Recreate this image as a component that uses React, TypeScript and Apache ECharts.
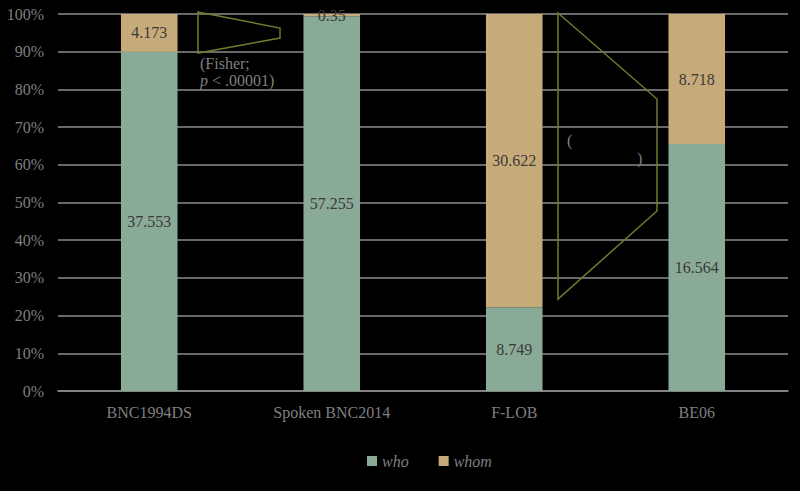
import React, { useEffect, useRef } from "react";
import * as echarts from "echarts";

const categories = ["BNC1994DS", "Spoken BNC2014", "F-LOB", "BE06"];
const whoValues = [37.553, 57.255, 8.749, 16.564];
const whomValues = [4.173, 0.35, 30.622, 8.718];
const yTicks = [0, 10, 20, 30, 40, 50, 60, 70, 80, 90, 100];

const WHO_COLOR = "#89aa97";
const WHOM_COLOR = "#c7aa7a";
const TEXT_GRAY = "#7f7f7f";
const LINE_GREEN = "#6a7f2c";
const FS = 16;

export default function App() {
  const ref = useRef<HTMLDivElement>(null);
  useEffect(() => {
    if (!ref.current) return;
    const chart = echarts.init(ref.current, null, { renderer: "svg" });
    const totals = whoValues.map((v, i) => v + whomValues[i]);
    const whoShare = whoValues.map((v, i) => ({ value: (v / totals[i]) * 100, raw: v }));
    const whomShare = whomValues.map((v, i) => ({ value: (v / totals[i]) * 100, raw: whomValues[i] }));
    const font = "'Liberation Serif', 'Times New Roman', serif";
    chart.setOption({
      animation: false,
      backgroundColor: "#000000",
      textStyle: { fontFamily: font },
      grid: { left: 58, right: 12, top: 14, bottom: 100 },
      legend: {
        bottom: 17,
        left: 362,
        itemWidth: 10,
        itemHeight: 10,
        itemGap: 30,
        icon: "rect",
        textStyle: { color: TEXT_GRAY, fontStyle: "italic", fontSize: FS, fontFamily: font },
        data: ["who", "whom"],
      },
      xAxis: {
        type: "category",
        data: categories,
        axisLine: { lineStyle: { color: "#8c8c8c", width: 1.5 } },
        axisTick: { show: false },
        axisLabel: { color: TEXT_GRAY, fontSize: FS, margin: 13, fontFamily: font },
      },
      yAxis: {
        type: "value",
        min: 0,
        max: 100,
        interval: 10,
        axisLine: { show: false },
        axisTick: { show: false },
        splitLine: { lineStyle: { color: "#8c8c8c", width: 1.5 } },
        axisLabel: {
          color: TEXT_GRAY,
          fontSize: FS,
          margin: 14,
          fontFamily: font,
          formatter: (v: number) => (yTicks.includes(v) ? v + "%" : ""),
        },
      },
      series: [
        {
          name: "who",
          type: "bar",
          stack: "total",
          barWidth: "31%",
          itemStyle: { color: WHO_COLOR },
          label: {
            show: true,
            position: "inside",
            color: "#3a3a3a",
            fontSize: FS,
            fontFamily: font,
            formatter: (p: any) => String(p.data.raw),
          },
          data: whoShare,
        },
        {
          name: "whom",
          type: "bar",
          stack: "total",
          barWidth: "31%",
          itemStyle: { color: WHOM_COLOR },
          label: {
            show: true,
            position: "inside",
            color: "#3a3a3a",
            fontSize: FS,
            fontFamily: font,
            formatter: (p: any) => String(p.data.raw),
          },
          data: whomShare,
        },
      ],
      graphic: [
        {
          type: "polygon",
          shape: { points: [[198, 12], [280, 28], [280, 38], [198, 53]] },
          style: { fill: "none", stroke: LINE_GREEN, lineWidth: 1.5 },
          z: 100,
        },
        {
          type: "text",
          x: 200,
          y: 55,
          style: { text: "(Fisher;", fill: TEXT_GRAY, font: FS + "px " + font },
          z: 100,
        },
        {
          type: "text",
          x: 200,
          y: 72,
          style: {
            text: "{i|p} < .00001)",
            fill: TEXT_GRAY,
            font: FS + "px " + font,
            rich: { i: { fontStyle: "italic", fill: TEXT_GRAY, fontSize: FS, fontFamily: font } },
          },
          z: 100,
        },
        {
          type: "polygon",
          shape: { points: [[558, 13], [657, 99], [657, 211], [558, 299]] },
          style: { fill: "none", stroke: LINE_GREEN, lineWidth: 1.5 },
          z: 100,
        },
        {
          type: "text",
          x: 567,
          y: 132,
          style: { text: "(", fill: TEXT_GRAY, font: FS + "px " + font },
          z: 100,
        },
        {
          type: "text",
          x: 637,
          y: 150,
          style: { text: ")", fill: TEXT_GRAY, font: FS + "px " + font },
          z: 100,
        },
      ],
    });
    return () => chart.dispose();
  }, []);
  return <div ref={ref} style={{ width: 800, height: 491, position: "absolute", left: 0, top: 0 }} />;
}
